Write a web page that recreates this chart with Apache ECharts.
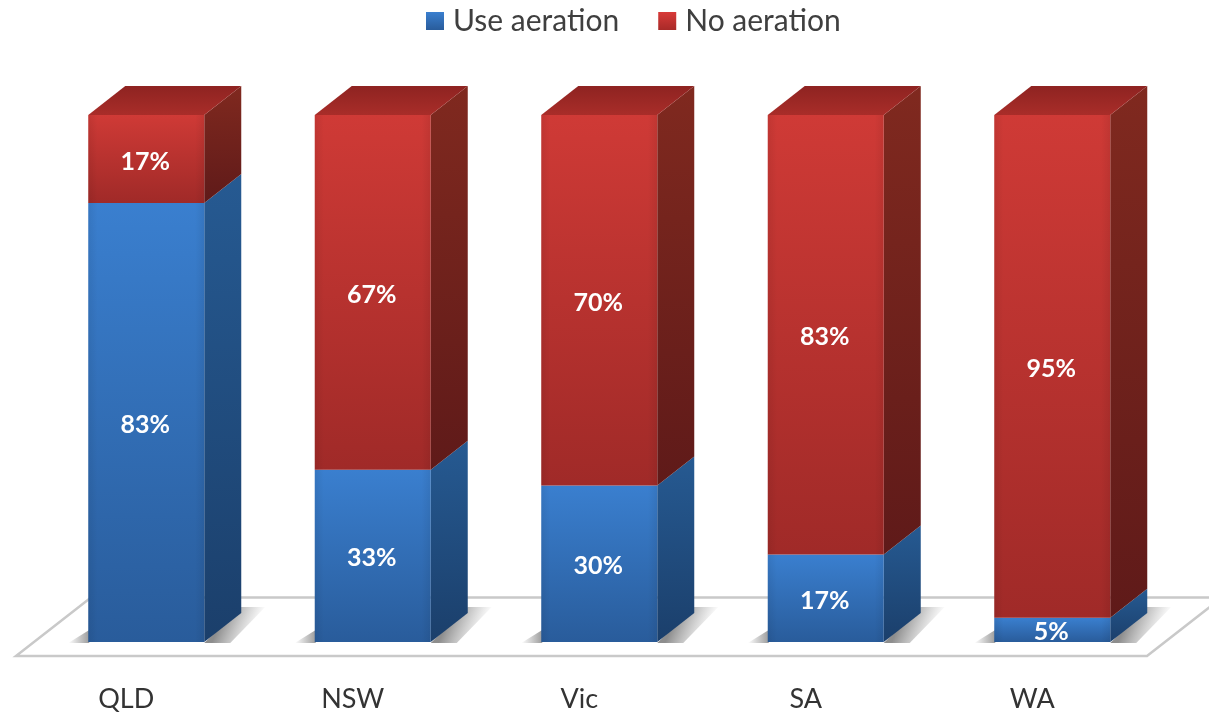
<!DOCTYPE html>
<html>
<head>
<meta charset="utf-8">
<style>html,body{margin:0;padding:0;background:#fff}#c{width:1209px;height:713px}</style>
<script src="https://cdn.jsdelivr.net/npm/echarts@6/dist/echarts.min.js"></script>
</head>
<body>
<div id="c"></div>
<script>
const categories = ['QLD', 'NSW', 'Vic', 'SA', 'WA'];
const useAeration = [83.3, 32.7, 29.7, 16.6, 4.6];
const noAeration = [16.7, 67.3, 70.3, 83.4, 95.4];
const seriesNames = ['Use aeration', 'No aeration'];

const DX = 37, DY = 29, BAR_RATIO = 116 / 226.5;
const lin = (a, b, horizontal) => ({
  type: 'linear', x: 0, y: 0, x2: horizontal ? 1 : 0, y2: horizontal ? 0 : 1,
  colorStops: [{ offset: 0, color: a }, { offset: 1, color: b }]
});
const BLUE = { front: lin('#3a7fcf', '#295c9b'), side: lin('#265a92', '#1b3f6b') };
const RED = { front: lin('#cf3a36', '#a02a28'), side: lin('#80291f', '#5f1a19'), top: lin('#8e2321', '#a92d29') };

function poly(points, fill, extra) {
  return Object.assign({ type: 'polygon', shape: { points }, style: { fill } }, extra || {});
}

function makeRender(palette, withShadow, withTop) {
  return function (params, api) {
    const cx = api.coord([api.value(0), 0])[0];
    const w = api.size([1, 0])[0] * BAR_RATIO;
    const x0 = cx - w / 2, x1 = cx + w / 2;
    const yLow = api.coord([api.value(0), api.value(1)])[1];
    const yHigh = api.coord([api.value(0), api.value(2)])[1];
    const children = [];
    if (withShadow) {
      // soft cast shadow left of the foot
      children.push(poly(
        [[x0 - 20, yLow + 1], [x0 + 1, yLow + 1], [x0 + 1, yLow - 12]],
        { type: 'linear', x: 0, y: 0, x2: 1, y2: 0,
          colorStops: [{ offset: 0, color: 'rgba(90,90,90,0)' }, { offset: 1, color: 'rgba(90,90,90,0.6)' }] }
      ));
      // soft cast shadow right of the side face
      children.push(poly(
        [[x1, yLow + 1], [x1 + DX, yLow - DY - 6], [x1 + DX + 24, yLow - DY - 6], [x1 + 26, yLow + 1]],
        { type: 'linear', x: 0.3, y: 0.3, x2: 0.85, y2: 0.7,
          colorStops: [{ offset: 0, color: 'rgba(80,80,80,0.65)' }, { offset: 1, color: 'rgba(120,120,120,0)' }] }
      ));
    }
    children.push(poly(
      [[x1, yHigh], [x1 + DX, yHigh - DY], [x1 + DX, yLow - DY], [x1, yLow]],
      palette.side
    ));
    children.push({ type: 'rect', shape: { x: x0, y: yHigh, width: w, height: yLow - yHigh }, style: { fill: palette.front } });
    children.push({
      type: 'rect', shape: { x: x0, y: yHigh, width: w, height: yLow - yHigh },
      style: {
        fill: {
          type: 'linear', x: 0, y: 0, x2: 1, y2: 0,
          colorStops: [
            { offset: 0, color: 'rgba(0,0,0,0.07)' }, { offset: 0.08, color: 'rgba(0,0,0,0)' },
            { offset: 0.92, color: 'rgba(0,0,0,0)' }, { offset: 1, color: 'rgba(0,0,0,0.07)' }
          ]
        }
      }
    });
    if (withTop) {
      children.push(poly(
        [[x0, yHigh], [x0 + DX, yHigh - DY], [x1 + DX, yHigh - DY], [x1, yHigh]],
        palette.top
      ));
    }
    children.push({
      type: 'text',
      z2: 10,
      style: {
        text: Math.round(api.value(2) - api.value(1)) + '%',
        x: cx - 1, y: (yLow + yHigh) / 2 + 2.5,
        align: 'center', verticalAlign: 'middle',
        fill: '#ffffff', font: 'bold 25px Lato, "Open Sans", sans-serif'
      }
    });
    return { type: 'group', children };
  };
}

const blueData = categories.map((c, i) => [i, 0, useAeration[i]]);
const redData = categories.map((c, i) => [i, useAeration[i], useAeration[i] + noAeration[i]]);

const chart = echarts.init(document.getElementById('c'), null, { renderer: 'canvas' });
chart.setOption({
  animation: false,
  backgroundColor: '#ffffff',
  grid: { left: 33, right: 43.5, top: 115, bottom: 71 },
  legend: {
    left: 421, top: 1, itemWidth: 18, itemHeight: 18, itemGap: 39,
    icon: 'rect', data: seriesNames,
    textStyle: { fontFamily: 'Lato, "Open Sans", sans-serif', fontSize: 30, color: '#3f3f3f', padding: [0, 0, 0, 4] }
  },
  xAxis: {
    type: 'category', data: categories,
    axisLine: { show: false }, axisTick: { show: false },
    axisLabel: {
      margin: 44, color: '#333333', fontSize: 27,
      fontFamily: 'Lato, "Open Sans", sans-serif', padding: [0, 40, 0, 0]
    }
  },
  yAxis: { type: 'value', min: 0, max: 100, show: false, splitLine: { show: false } },
  graphic: [{
    type: 'polygon', silent: true, z: 0,
    shape: { points: [[16, 656], [1147, 656], [1222, 597.5], [91, 597.5]] },
    style: { fill: '#ffffff', stroke: '#c9c9c9', lineWidth: 2.5 }
  }],
  series: [
    {
      name: seriesNames[0], type: 'custom', data: blueData, z: 2,
      itemStyle: { color: lin('#3a7fcf', '#295c9b') },
      encode: { x: 0, y: [1, 2] },
      renderItem: makeRender(BLUE, true, false)
    },
    {
      name: seriesNames[1], type: 'custom', data: redData, z: 3,
      itemStyle: { color: lin('#d83a38', '#a82a28') },
      encode: { x: 0, y: [1, 2] },
      renderItem: makeRender(RED, false, true)
    }
  ]
});
</script>
</body>
</html>
